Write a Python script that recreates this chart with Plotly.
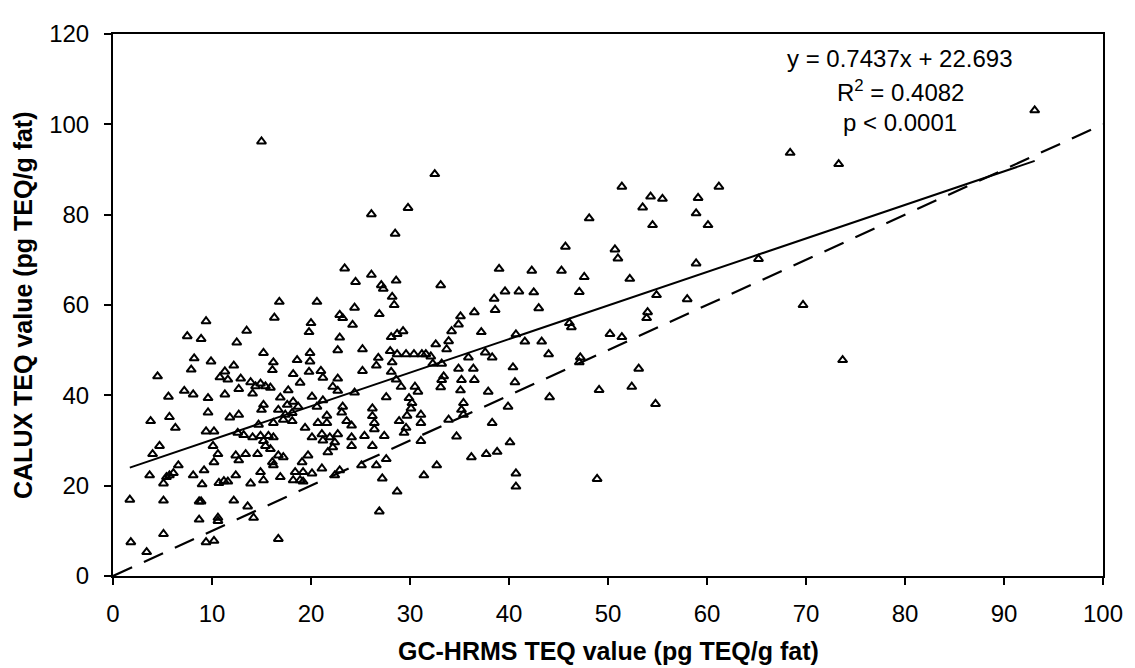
import plotly.graph_objects as go

# ---- scatter data: GC-HRMS TEQ (x) vs CALUX TEQ (y) ----
gc_hrms = [
    # x < 15, upper part
    9.4, 13.5, 7.5, 8.9, 12.5, 8.2, 9.9, 7.9, 12.2, 11.3, 4.5, 10.8, 11.6, 12.9, 13.9, 14.4,
    12.7, 14.1, 7.2, 8.1, 5.6, 9.6, 11.3, 9.6, 5.7, 3.8, 11.8, 12.7, 6.3, 9.4, 10.2,
    # x < 15, lower part
    12.6, 13.2, 14.1, 4.7, 4.0, 10.1, 10.6, 10.2, 12.4, 12.7, 13.4, 14.6, 6.6, 3.7, 5.4, 5.7,
    5.1, 8.1, 9.2, 9.0, 10.7, 11.6, 12.4, 13.9, 1.7, 5.1, 8.7, 8.9, 12.2, 13.6, 14.2, 8.7,
    10.6, 10.6, 5.1, 1.8, 3.4, 9.4, 10.2, 6.1, 11.2,
    # 15 - 31, upper part
    23.4, 24.5, 26.1, 27.1, 27.3, 28.6, 28.2, 28.4, 16.8, 20.6, 16.3, 24.4, 22.9, 23.2, 24.2,
    26.9, 20.0, 19.8, 22.9, 28.1, 28.7, 29.3, 15.2, 19.9, 22.7, 25.2, 28.0, 28.7, 29.6, 30.4,
    31.2, 16.2, 16.1, 18.6, 19.9, 26.8, 26.6, 28.2, 28.1, 21.0, 21.2, 19.8, 18.2, 18.9, 22.7,
    22.2, 22.7, 25.2, 28.6, 29.1, 30.5, 30.8, 14.9, 15.4, 15.9, 17.7, 16.9, 20.1, 21.2, 18.2,
    17.6, 18.7, 15.2, 15.0, 24.4, 27.6, 29.9, 30.2, 31.1, 16.7, 17.4, 18.1, 17.2, 18.1, 16.2,
    20.6, 21.6, 23.2, 23.1, 26.2, 26.2, 30.1, 29.7, 14.7, 19.4, 20.7, 21.6, 23.6, 24.1, 26.4,
    26.4, 28.9, 29.6, 31.1,
    # 15 - 31, lower part
    14.9, 15.2, 15.7, 16.2, 15.4, 15.9, 16.7, 16.1, 17.2, 14.9, 15.2, 16.9, 16.2, 16.7,
    20.1, 21.1, 21.2, 21.9, 22.4, 22.2, 21.7, 22.7, 24.1, 24.1, 25.4, 26.2,
    19.1, 19.7, 18.4, 19.2, 20.1, 21.1, 18.2, 19.2, 18.9,
    22.4, 22.9, 25.1, 26.6, 27.6, 27.2, 27.4, 29.4, 31.1, 31.4, 28.7, 26.9,
    # 31 - 48, upper part
    33.1, 39.0, 42.3, 45.3, 47.6, 39.6, 41.0, 42.5, 47.1, 38.5, 38.6, 43.0, 36.5, 35.1, 34.9,
    34.2, 33.9, 33.7, 32.6, 37.2, 46.1, 46.3, 40.7, 41.6, 43.3, 44.0, 47.2, 47.1, 31.6, 32.1,
    32.3, 33.2, 35.9, 37.6, 38.3, 34.9, 36.4, 33.4, 33.2, 33.1, 35.2, 36.5, 35.1, 37.9, 40.4,
    40.6, 44.1, 35.4, 35.2, 35.4, 39.9, 38.3, 33.9,
    # 31 - 48, lower part
    34.7, 36.2, 37.7, 38.8, 40.1, 32.7, 40.7, 40.7,
    # high values, x < 48
    15.0, 32.5, 29.8, 26.1, 28.5, 45.7, 48.1,
    # x > 48
    68.4, 73.3, 51.4, 61.2, 54.3, 55.5, 59.1, 58.9, 53.5, 54.5, 60.1, 50.7, 51.0, 58.9, 65.2,
    52.2, 54.9, 58.0, 69.7, 54.0, 53.9, 50.2, 51.4, 73.7, 53.1, 49.1, 52.4, 54.8, 48.9, 93.1,
]

calux = [
    56.4, 54.3, 53.1, 52.5, 51.7, 48.2, 47.5, 45.7, 46.6, 45.3, 44.2, 44.0, 43.5, 43.7, 42.9, 42.0,
    41.4, 40.4, 41.0, 40.2, 39.7, 39.4, 40.2, 36.2, 35.2, 34.3, 35.1, 35.7, 32.8, 32.0, 32.0,
    31.7, 31.2, 30.7, 28.8, 27.0, 28.8, 27.0, 25.2, 26.7, 25.6, 27.0, 27.0, 24.5, 22.3, 21.9, 22.3,
    20.5, 22.3, 23.4, 20.3, 20.6, 20.9, 22.3, 20.5, 16.9, 16.7, 16.5, 16.5, 16.7, 15.4, 12.9, 12.5,
    12.9, 12.2, 9.3, 7.5, 5.3, 7.5, 7.8, 22.8, 21.0,
    68.1, 65.1, 66.7, 64.4, 63.6, 65.4, 61.8, 60.0, 60.7, 60.7, 57.2, 59.4, 57.8, 57.1, 55.6,
    58.0, 56.0, 54.0, 52.8, 52.9, 53.6, 54.2, 49.4, 49.4, 50.0, 50.2, 49.8, 49.1, 49.1, 49.1,
    49.1, 47.3, 45.6, 47.8, 47.5, 48.3, 46.6, 47.3, 45.2, 45.4, 43.9, 45.2, 44.7, 42.8, 43.7,
    41.9, 41.0, 45.4, 43.5, 41.9, 41.9, 40.8, 42.6, 42.0, 41.7, 41.1, 39.5, 39.7, 38.9, 38.6,
    37.9, 37.5, 37.9, 36.8, 40.6, 39.6, 39.4, 38.3, 35.7, 36.8, 35.7, 36.1, 34.6, 34.3, 33.9,
    37.5, 35.5, 37.5, 36.2, 37.1, 35.4, 37.1, 35.5, 33.5, 32.8, 33.9, 33.9, 34.3, 33.3, 33.9,
    32.5, 34.3, 32.8, 33.9,
    31.0, 29.9, 31.0, 30.7, 28.8, 28.1, 26.7, 25.2, 26.3, 23.0, 21.2, 21.9, 24.5, 8.2,
    30.7, 31.4, 30.0, 30.7, 29.6, 28.5, 27.4, 31.4, 30.7, 28.8, 31.0, 28.8,
    25.2, 26.7, 23.0, 23.0, 22.7, 23.8, 21.2, 20.9, 21.2,
    22.3, 23.4, 24.5, 24.5, 25.9, 21.6, 31.0, 31.7, 29.9, 22.3, 18.7, 14.3,
    64.4, 68.0, 67.6, 67.6, 66.2, 63.0, 63.0, 62.8, 62.9, 61.4, 58.9, 59.3, 58.4, 57.5, 55.7,
    54.2, 52.0, 50.2, 51.3, 54.0, 56.0, 55.1, 53.5, 51.9, 51.9, 49.1, 48.4, 47.3, 49.1, 48.6,
    47.0, 47.0, 48.4, 49.5, 48.4, 45.9, 45.9, 44.2, 43.4, 41.8, 43.4, 43.4, 41.1, 40.8, 46.2,
    42.9, 39.6, 38.3, 36.8, 35.7, 37.5, 33.9, 34.6,
    30.9, 26.3, 27.0, 27.5, 29.6, 24.5, 22.7, 19.8,
    96.2, 89.0, 81.5, 80.1, 75.8, 72.9, 79.2,
    93.7, 91.2, 86.2, 86.2, 84.0, 83.5, 83.7, 80.3, 81.6, 77.7, 77.7, 72.3, 70.3, 69.2, 70.2,
    65.8, 62.2, 61.3, 60.0, 58.4, 57.1, 53.6, 52.9, 47.8, 45.9, 41.2, 41.9, 38.1, 21.5, 103.1,
]

# regression line end points (y = 0.7437x + 22.693) and 1:1 line
fit_x = [1.7, 93.1]
fit_y = [24.0, 91.9]
identity_x = [0, 100]
identity_y = [0, 100]

stats_lines = ["y = 0.7437x + 22.693", "R<sup>2</sup> = 0.4082", "p < 0.0001"]
stats_y = [114.6, 107.4, 100.4]

x_title = "GC-HRMS TEQ value (pg TEQ/g fat)"
y_title = "CALUX TEQ value (pg TEQ/g fat)"

FONT = "Liberation Sans, Arial, sans-serif"

fig = go.Figure()
fig.add_trace(go.Scatter(
    x=identity_x, y=identity_y, mode="lines",
    line=dict(color="black", width=2.2, dash="21px,13px"),
    hoverinfo="skip", showlegend=False,
))
fig.add_trace(go.Scatter(
    x=fit_x, y=fit_y, mode="lines",
    line=dict(color="black", width=2),
    hoverinfo="skip", showlegend=False,
))
fig.add_trace(go.Scatter(
    x=gc_hrms, y=calux, mode="markers",
    marker=dict(symbol="triangle-up-open", size=8, color="black",
                line=dict(color="black", width=2)),
    showlegend=False,
))

for txt, yy in zip(stats_lines, stats_y):
    fig.add_annotation(x=79.5, y=yy, xref="x", yref="y", text=txt,
                       showarrow=False, xanchor="center", yanchor="middle",
                       font=dict(family=FONT, size=24, color="black"))

fig.add_annotation(x=0.5, y=0, xref="paper", yref="paper", text=f"<b>{x_title}</b>",
                   showarrow=False, xanchor="center", yanchor="middle", yshift=-75,
                   font=dict(family=FONT, size=25, color="black"))
fig.add_annotation(x=0, y=0.5, xref="paper", yref="paper", text=f"<b>{y_title}</b>",
                   showarrow=False, xanchor="center", yanchor="middle", xshift=-90,
                   textangle=-90, font=dict(family=FONT, size=25, color="black"))

axis_common = dict(
    showgrid=False, zeroline=False, showline=True, linecolor="black", linewidth=2,
    mirror=True, ticks="outside", ticklen=7, tickwidth=2, tickcolor="black",
    tickfont=dict(family=FONT, size=24, color="black"),
)
fig.update_xaxes(range=[0, 100], dtick=10, tick0=0, ticklabelstandoff=8, **axis_common)
fig.update_yaxes(range=[0, 120], dtick=20, tick0=0, ticklabelstandoff=10, **axis_common)

# the page body adds an 8px offset, so the figure is 8px smaller on each axis
fig.update_layout(
    width=1127, height=660,
    margin=dict(l=105, r=22, t=16, b=92),
    paper_bgcolor="white", plot_bgcolor="white",
    font=dict(family=FONT, color="black"),
)

fig.write_html("out.html")
